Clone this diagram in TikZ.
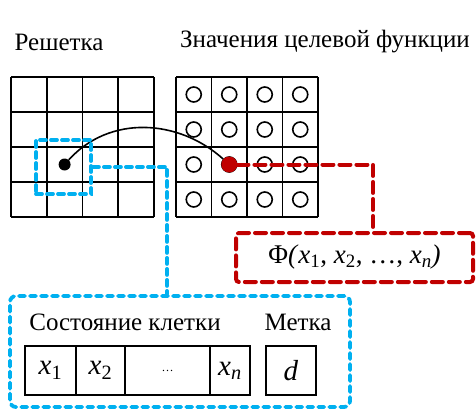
\documentclass[tikz,border=0pt]{standalone}
\usepackage{fontspec}
\setmainfont{Liberation Serif}
\usepackage{xcolor}
\usetikzlibrary{positioning}

\definecolor{cellblue}{RGB}{0,176,240}
\definecolor{markred}{RGB}{192,0,0}
\newcommand{\xsub}[1]{\textit{x}\textsubscript{#1}}

\begin{document}
\begin{tikzpicture}[x=1pt, y=-1pt,
                    every node/.style={font=\rmfamily\fontsize{25}{30}\selectfont},
                    gridline/.style={line width=1.6pt},
                    bluedash/.style={draw=cellblue, line width=3.8pt, dash pattern=on 6pt off 5pt, line cap=round},
                    reddash/.style={draw=markred, line width=4pt, dash pattern=on 11pt off 6pt, line cap=round},
                    field/.style={draw, line width=1.6pt, minimum height=49pt, inner sep=0pt, outer sep=0pt,
                                  font=\rmfamily\fontsize{29}{32}\selectfont}]
  \useasboundingbox (0,0) rectangle (476,410);

  % titles
  \node (gridlbl) at (59,42) {Решетка};
  \node (funclbl) at (325,42) {Значения целевой функции};

  % grid and values
  \foreach \i in {0,...,4} {
    \draw[gridline] (11+35.75*\i,77) -- (11+35.75*\i,217);
    \draw[gridline] (11,77+35*\i) -- (154,77+35*\i);
    \draw[gridline] (176+35.5*\i,77) -- (176+35.5*\i,217);
    \draw[gridline] (176,77+35*\i) -- (318,77+35*\i);
  }
  \foreach \i in {0,...,3}
    \foreach \j in {0,...,3}
      \draw[line width=1.6pt] (176+35.5*\i+17.75,77+35*\j+17.5) circle (7.5);

  \node[circle, fill, inner sep=0pt, minimum size=12pt] (src) at (64.6,164.5) {};
  \node[circle, fill=markred, inner sep=0pt, minimum size=16pt] (tgt) at (229.25,164.5) {};
  \draw[line width=1.6pt] (src) to[out=48,in=138] (tgt);

  % selected cell
  \node[bluedash, minimum width=55pt, minimum height=54pt, inner sep=0pt] (pick) at (63.5,167) {};

  % objective value
  \node[reddash, rounded corners=3pt, minimum width=237pt, minimum height=49pt,
        font=\rmfamily\fontsize{27}{30}\selectfont] (phi) at (354.5,257.5)
    {Φ\textit{(}\xsub{1}, \xsub{2}, …, \xsub{\textit{n}}\textit{)}};
  \draw[reddash] (tgt.east) -| ([xshift=18.5pt]phi.north);

  % cell state
  \node[bluedash, rounded corners=6pt, minimum width=340pt, minimum height=111pt] (cellbox) at (180,351.5) {};
  \draw[bluedash] (pick.east) -| ([xshift=-13pt]cellbox.north);

  \node (statelbl) at (125,322) {Состояние клетки};
  \node (marklbl) at (298,322) {Метка};

  \node[field, minimum width=51pt, anchor=west] (f1) at (25,370.5) {\xsub{1}};
  \node[field, minimum width=49pt, right=0pt of f1] (f2) {\xsub{2}};
  \node[field, minimum width=85pt, right=0pt of f2] (fdots) {\fontsize{12}{14}\selectfont …};
  \node[field, minimum width=40pt, right=0pt of fdots] (fn) {\xsub{\textit{n}}};
  \node[field, minimum width=50pt, right=16pt of fn] (fd) {\textit{d}};
\end{tikzpicture}
\end{document}
